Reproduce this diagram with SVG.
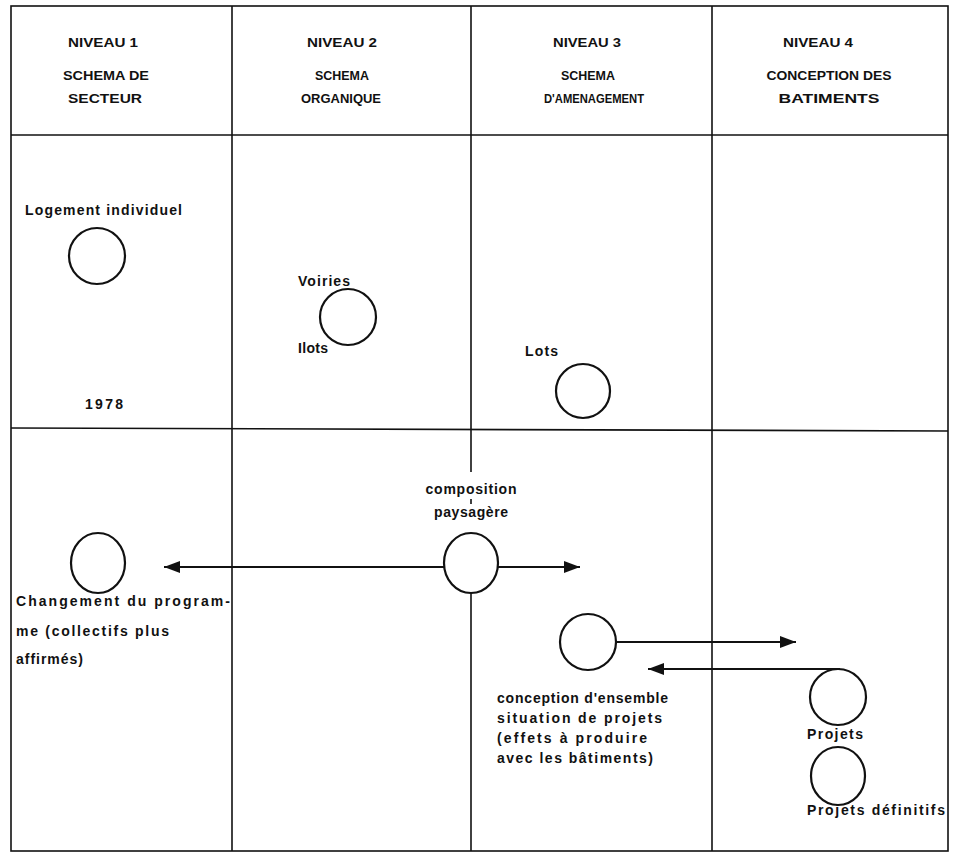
<svg xmlns="http://www.w3.org/2000/svg" width="953" height="859" viewBox="0 0 953 859">
<style>
.grid{stroke:#111;stroke-width:1.6;fill:none}
.c{fill:none;stroke:#111;stroke-width:2.2}
.conn{stroke:#111;stroke-width:2;fill:none}
.h{font-family:"Liberation Sans",Arial,sans-serif;font-size:13px;font-weight:bold;fill:#111;text-anchor:middle}
.t{font-family:"Liberation Sans",Arial,sans-serif;font-size:14px;font-weight:bold;fill:#111}
</style>
<defs>
<marker id="ah" viewBox="0 0 16 12" refX="16" refY="6" markerWidth="16" markerHeight="12" markerUnits="userSpaceOnUse" orient="auto">
<path d="M0,0 L16,6 L0,12 Z" fill="#111"/>
</marker>
</defs>
<rect width="953" height="859" fill="#fff"/>
<g id="grid">
<rect class="grid" x="11" y="6" width="937" height="845"/>
<line class="grid" x1="11" y1="135" x2="948" y2="135"/>
<line class="grid" x1="11" y1="428" x2="948" y2="431"/>
<line class="grid" x1="232" y1="6" x2="232" y2="851"/>
<line class="grid" x1="471" y1="6" x2="471" y2="472"/>
<line class="grid" x1="471" y1="499" x2="471" y2="504"/>
<line class="grid" x1="471" y1="593" x2="471" y2="851"/>
<line class="grid" x1="712" y1="6" x2="712" y2="851"/>
</g>
<g id="header">
<text class="h" x="103" y="47" textLength="70" lengthAdjust="spacingAndGlyphs">NIVEAU 1</text>
<text class="h" x="106" y="80" textLength="86" lengthAdjust="spacingAndGlyphs">SCHEMA DE</text>
<text class="h" x="105" y="103" textLength="74" lengthAdjust="spacingAndGlyphs">SECTEUR</text>
<text class="h" x="342" y="47" textLength="70" lengthAdjust="spacingAndGlyphs">NIVEAU 2</text>
<text class="h" x="342" y="80" textLength="54" lengthAdjust="spacingAndGlyphs">SCHEMA</text>
<text class="h" x="341" y="103" textLength="80" lengthAdjust="spacingAndGlyphs">ORGANIQUE</text>
<text class="h" x="587" y="47" textLength="68" lengthAdjust="spacingAndGlyphs">NIVEAU 3</text>
<text class="h" x="588" y="80" textLength="54" lengthAdjust="spacingAndGlyphs">SCHEMA</text>
<text class="h" x="594" y="103" textLength="100" lengthAdjust="spacingAndGlyphs">D'AMENAGEMENT</text>
<text class="h" x="818" y="47" textLength="70" lengthAdjust="spacingAndGlyphs">NIVEAU 4</text>
<text class="h" x="829" y="80" textLength="125" lengthAdjust="spacingAndGlyphs">CONCEPTION DES</text>
<text class="h" x="829" y="103" textLength="101" lengthAdjust="spacingAndGlyphs">BATIMENTS</text>
</g>
<g id="n-logement">
<circle class="c" cx="97" cy="256" r="28"/>
<text class="t" x="25" y="215" textLength="157">Logement individuel</text>
<text class="t" x="85" y="409" textLength="38">1978</text>
</g>
<g id="n-voiries">
<circle class="c" cx="348" cy="317" r="28"/>
<text class="t" x="298" y="286" textLength="52">Voiries</text>
<text class="t" x="298" y="353" textLength="30">Ilots</text>
</g>
<g id="n-lots">
<circle class="c" cx="583" cy="391" r="27"/>
<text class="t" x="525" y="356" textLength="33">Lots</text>
</g>
<g id="n-changement">
<ellipse class="c" cx="98" cy="563" rx="27" ry="30"/>
<text class="t" x="16" y="606" textLength="214">Changement du program-</text>
<text class="t" x="16" y="636" textLength="153">me (collectifs plus</text>
<text class="t" x="16" y="664" textLength="67">affirmés)</text>
</g>
<g id="n-composition">
<ellipse class="c" cx="471" cy="563" rx="27" ry="30"/>
<text class="t" x="471" y="494" text-anchor="middle" textLength="91">composition</text>
<text class="t" x="471" y="517" text-anchor="middle" textLength="74">paysagère</text>
</g>
<g id="n-conception">
<circle class="c" cx="588" cy="642" r="28"/>
<text class="t" x="497" y="703" textLength="171">conception d'ensemble</text>
<text class="t" x="497" y="723" textLength="165">situation de projets</text>
<text class="t" x="497" y="743" textLength="150">(effets à produire</text>
<text class="t" x="497" y="763" textLength="156">avec les bâtiments)</text>
</g>
<g id="n-projets">
<circle class="c" cx="838" cy="697" r="28"/>
<text class="t" x="807" y="739" textLength="56">Projets</text>
</g>
<g id="n-definitifs">
<ellipse class="c" cx="838" cy="776" rx="27" ry="29"/>
<text class="t" x="807" y="815" textLength="138">Projets définitifs</text>
</g>
<g id="connectors">
<line class="conn" x1="444" y1="567" x2="164" y2="567" marker-end="url(#ah)"/>
<line class="conn" x1="498" y1="567" x2="580" y2="567" marker-end="url(#ah)"/>
<line class="conn" x1="616" y1="642" x2="796" y2="642" marker-end="url(#ah)"/>
<line class="conn" x1="840" y1="669" x2="648" y2="669" marker-end="url(#ah)"/>
</g>
</svg>
